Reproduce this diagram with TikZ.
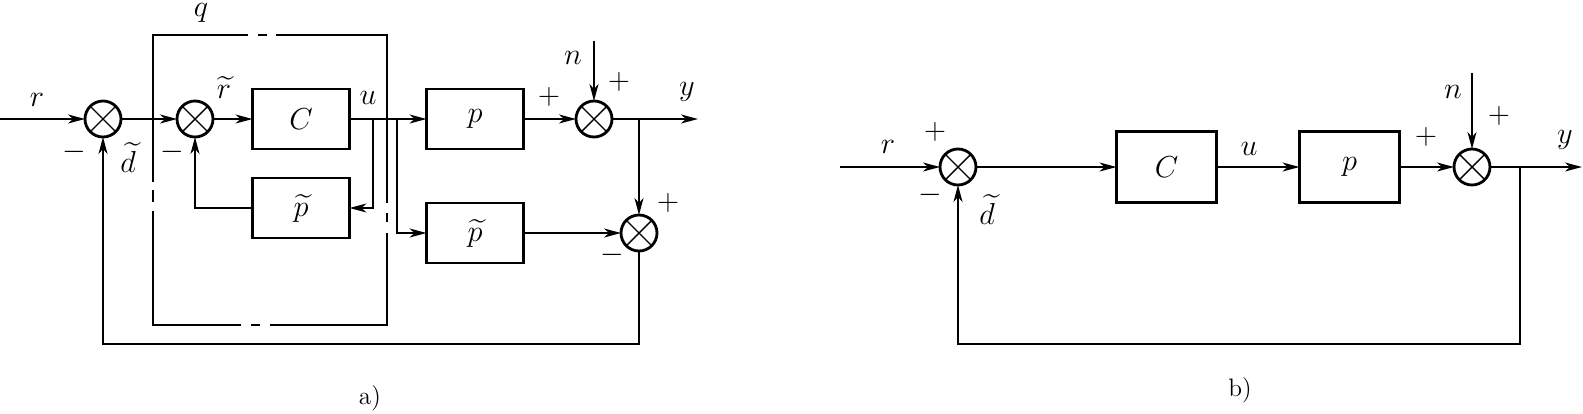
\documentclass[tikz,border=0pt]{standalone}
\usepackage{amsmath}
\usetikzlibrary{arrows.meta}
\tikzset{
 blocka/.style={draw, line width=1.4pt, font=\LARGE, minimum width=1.94cm, minimum height=1.2cm, inner sep=0, outer sep=0},
 blockb/.style={draw, line width=1.7pt, font=\LARGE, minimum width=2cm, minimum height=1.42cm, inner sep=0, outer sep=0},
 sumnode/.style={circle, draw, line width=1.6pt, minimum size=.72cm, inner sep=0, outer sep=0,
  path picture={
   \draw[line width=.8pt] (path picture bounding box.north west)--(path picture bounding box.south east);
   \draw[line width=.8pt] (path picture bounding box.north east)--(path picture bounding box.south west);
  }},
 lab/.style={font=\LARGE, inner sep=0},
 conn/.style={line width=.8pt, ->, >={Stealth[length=.34cm,width=.18cm,inset=.1cm]}},
 wire/.style={line width=.8pt}
}
\begin{document}
\begin{tikzpicture}[x=.02cm,y=-.02cm]
\useasboundingbox (0,0) rectangle (1583,413);
% a)
\node[sumnode] (sa1) at (103,119) {};
\node[sumnode] (sa2) at (195,119) {};
\node[sumnode] (sa3) at (594,119) {};
\node[sumnode] (sa4) at (639,233) {};
\node[blocka] (ca) at (301,119) {$C$};
\node[blocka] (pa1) at (301,208) {$\widetilde{p}$};
\node[blocka] (pa) at (475,119) {$p$};
\node[blocka] (pa2) at (475,233) {$\widetilde{p}$};
\coordinate (ra) at (0,119);
\coordinate (ya) at (698,119);
\coordinate (na) at (594,41);
\coordinate (ua) at (373,119);
\coordinate (ub) at (397,119);
\coordinate (ta) at (639,119);
\coordinate (ba) at (373,208);
\coordinate (fa) at (103,344);
\draw[conn] (ra)--(sa1.west);
\draw[conn] (sa1.east)--(sa2.west);
\draw[conn] (sa2.east)--(ca.west);
\draw[conn] (ca.east)--(pa.west);
\draw[conn] (pa.east)--(sa3.west);
\draw[conn] (na)--(sa3.north);
\draw[conn] (sa3.east)--(ya);
\draw[conn] (ta)--(sa4.north);
\draw[conn] (ub) |- (pa2.west);
\draw[conn] (pa2.east)--(sa4.west);
\draw[conn] (ua)--(ba)--(pa1.east);
\draw[conn] (pa1.west) -| (sa2.south);
\draw[conn] (sa4.south) |- (fa)--(sa1.south);
% q box
\draw[wire] (248,35)--(153,35)--(153,182) (153,190)--(153,202) (153,211)--(153,325)--(241,325)
 (251,325)--(260,325) (270,325)--(387,325)--(387,233) (387,222)--(387,213) (387,203)--(387,35)--(276,35)
 (267,35)--(258,35);
\foreach \n/\x/\y/\t in {lr/37/100/r, lq/201/13/q, ld/128/158/\widetilde{d}, lt/224/88/\widetilde{r}, lu/368/98/u,
  ln/573/58/n, ly/687/92/y, lr2/888/147/r, ld2/987/210/\widetilde{d}, lu2/1249/149/u, ln2/1453/92/n, ly2/1565/140/y}
 \node[lab] (\n) at (\x,\y) {$\t$};
\foreach \n/\x/\y in {m1/74/152, m2/172/152, m3/612/255, m4/930/195}
 \node[lab] (\n) at (\x,\y) {$-$};
\foreach \n/\x/\y in {p1/549/97, p2/619/82, p3/668/203, p4/935/132, p5/1426/137, p6/1499/116}
 \node[lab] (\n) at (\x,\y) {$+$};
\node[lab, font=\Large] (capa) at (370,398) {a)};
% b)
\node[sumnode] (sb1) at (958,167) {};
\node[sumnode] (sb2) at (1472,167) {};
\node[blockb] (cb) at (1166.5,167) {$C$};
\node[blockb] (pb) at (1349.5,167) {$p$};
\coordinate (rb) at (840,167);
\coordinate (yb) at (1582,167);
\coordinate (nb) at (1472,73);
\coordinate (tb) at (1520,167);
\coordinate (fb) at (958,344);
\draw[conn] (rb)--(sb1.west);
\draw[conn] (sb1.east)--(cb.west);
\draw[conn] (cb.east)--(pb.west);
\draw[conn] (pb.east)--(sb2.west);
\draw[conn] (nb)--(sb2.north);
\draw[conn] (sb2.east)--(yb);
\draw[conn] (tb) |- (fb)--(sb1.south);
\node[lab, font=\Large] (capb) at (1240,390) {b)};
\end{tikzpicture}
\end{document}
